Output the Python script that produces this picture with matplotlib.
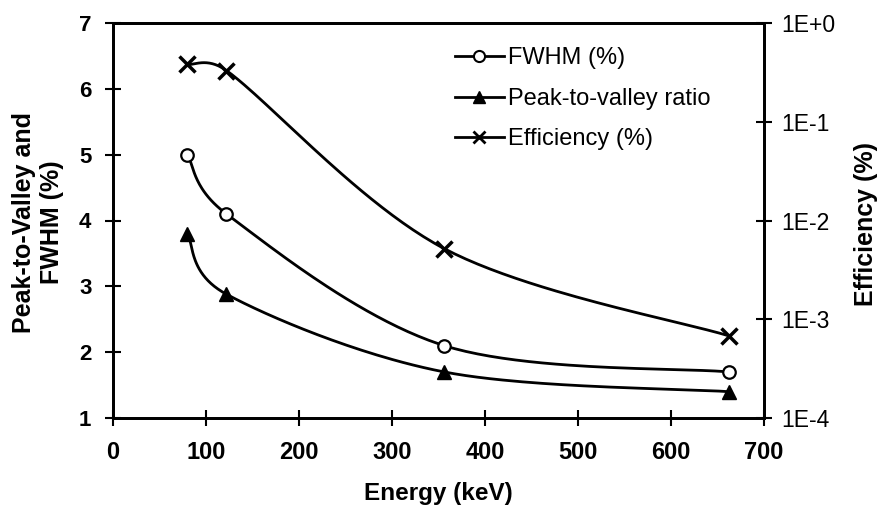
import numpy as np
import matplotlib
matplotlib.use("Agg")
from matplotlib import pyplot as plt
from matplotlib.ticker import FixedLocator, FixedFormatter

plt.rcParams['font.family'] = ['Liberation Sans', 'DejaVu Sans']

energy = [80, 122, 356, 662]
fwhm = [5.0, 4.1, 2.1, 1.7]
peak_valley = [3.8, 2.88, 1.7, 1.4]
efficiency = [0.38, 0.33, 0.0052, 0.00068]

xticks = [0, 100, 200, 300, 400, 500, 600, 700]
yticks = [1, 2, 3, 4, 5, 6, 7]
rticks = [1e-4, 1e-3, 1e-2, 1e-1, 1e0]
rlabels = ["1E-4", "1E-3", "1E-2", "1E-1", "1E+0"]

# axes size in pixels, used so the smoothing works in screen space
W, H = 651.0, 395.0


def smooth(px, py, n=50):
    # spreadsheet-like smoothed line: Bezier segments, arms limited by segment length
    p = np.column_stack([px, py]).astype(float)
    pts = np.vstack([p[0], p, p[-1]])
    out = []
    for i in range(1, len(pts) - 2):
        p0, p1, p2, p3 = pts[i - 1], pts[i], pts[i + 1], pts[i + 2]
        d = np.linalg.norm(p2 - p1)
        a1 = (p2 - p0) / 6
        a2 = (p3 - p1) / 6
        for a in (a1, a2):
            la = np.linalg.norm(a)
            if la > 0.6 * d:
                a *= 0.6 * d / la
        c1 = p1 + a1
        c2 = p2 - a2
        t = np.linspace(0, 1, n)[:, None]
        seg = ((1 - t) ** 3) * p1 + 3 * ((1 - t) ** 2) * t * c1 + 3 * (1 - t) * t ** 2 * c2 + t ** 3 * p2
        out.append(seg)
    seg = np.vstack(out)
    return seg[:, 0], seg[:, 1]


fig = plt.figure(figsize=(8.79, 5.08), dpi=100)
ax = fig.add_axes([113 / 879, 1 - 418 / 508, W / 879, H / 508])
ax2 = ax.twinx()

ex = np.array(energy) / 700.0 * W
sx, sy = smooth(ex, (np.array(fwhm) - 1) / 6.0 * H)
ax.plot(sx / W * 700, sy / H * 6 + 1, color='black', lw=2)
sx, sy = smooth(ex, (np.array(peak_valley) - 1) / 6.0 * H)
ax.plot(sx / W * 700, sy / H * 6 + 1, color='black', lw=2)
sx, sy = smooth(ex, (np.log10(efficiency) + 4) / 4.0 * H)
ax2.plot(sx / W * 700, 10 ** (sy / H * 4 - 4), color='black', lw=2)

ax.plot(energy, fwhm, 'o', mfc='white', mec='black', mew=1.6, ms=9, zorder=3)
ax.plot(energy, peak_valley, '^', mfc='black', mec='black', ms=10, zorder=3)
ax2.plot(energy, efficiency, 'x', mec='black', mew=2.5, ms=11, zorder=3)

ax.set_xlim(0, 700)
ax.set_ylim(1, 7)
ax2.set_yscale('log')
ax2.set_ylim(1e-4, 1e0)
ax.set_xticks(xticks)
ax.set_yticks(yticks)
ax2.yaxis.set_major_locator(FixedLocator(rticks))
ax2.yaxis.set_major_formatter(FixedFormatter(rlabels))
ax2.yaxis.set_minor_locator(FixedLocator([]))

for a in (ax, ax2):
    for s in a.spines.values():
        s.set_linewidth(2)
    a.tick_params(direction='inout', length=11, width=1.5, pad=8)
ax.tick_params(axis='x', labelsize=17, pad=11)
ax.tick_params(axis='y', labelsize=16, pad=10)
ax2.tick_params(axis='y', labelsize=16.5, pad=7)
for lab in ax.get_xticklabels() + ax.get_yticklabels():
    lab.set_fontweight('bold')

ax.set_xlabel('Energy (keV)', fontsize=17.5, fontweight='bold', labelpad=13)
ax.set_ylabel('Peak-to-Valley and\nFWHM (%)', fontsize=18, fontweight='bold',
              linespacing=1.2)
ax.yaxis.set_label_coords(-0.076, 0.496)
ax2.set_ylabel('Efficiency (%)', fontsize=18, fontweight='bold')
ax2.yaxis.set_label_coords(1.138, 0.49)

lh = [plt.Line2D([], [], color='black', lw=2, marker='o', mfc='white', mec='black', mew=1.5, ms=8),
      plt.Line2D([], [], color='black', lw=2, marker='^', mfc='black', mec='black', ms=9),
      plt.Line2D([], [], color='black', lw=2, marker='x', mec='black', mew=2, ms=9)]
ax.legend(lh, ['FWHM (%)', 'Peak-to-valley ratio', 'Efficiency (%)'], loc='upper left',
          bbox_to_anchor=(0.492, 0.992), frameon=False, handlelength=2.1,
          handletextpad=0.15, labelspacing=0.78, prop={'size': 17})

fig.savefig('out.png', dpi=100)
